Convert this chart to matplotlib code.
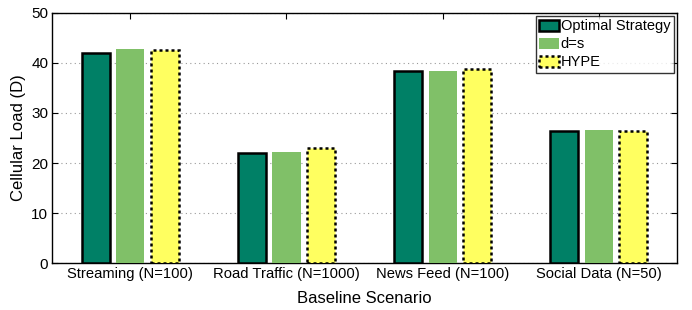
import matplotlib
matplotlib.use("Agg")
import matplotlib.pyplot as plt
import numpy as np

plt.rcParams['font.family'] = ['Liberation Sans', 'DejaVu Sans']

categories = ["Streaming (N=100)", "Road Traffic (N=1000)", "News Feed (N=100)", "Social Data (N=50)"]
optimal = [42.0, 22.1, 38.4, 26.4]
ds = [42.8, 22.3, 38.4, 26.5]
hype = [42.5, 23.0, 38.7, 26.4]
series_names = ["Optimal Strategy", "d=s", "HYPE"]
yticks = [0, 10, 20, 30, 40, 50]

fig = plt.figure(figsize=(6.92, 3.10), dpi=100)
ax = fig.add_axes([0.0756, 0.1506, 0.9023, 0.8084])

x = np.arange(1, len(categories) + 1)
w = 0.18
off = 0.222
ax.bar(x - off, optimal, w, color='#008066', edgecolor='black', linewidth=1.8, label=series_names[0], zorder=3)
ax.bar(x, ds, w, color='#80C068', edgecolor='none', linewidth=0, label=series_names[1], zorder=3)
ax.bar(x + off, hype, w, color='#FFFF60', edgecolor='black', linewidth=1.8, linestyle=(0, (1.2, 1.2)), label=series_names[2], zorder=3)

ax.set_xlim(0.5, 4.5)
ax.set_ylim(0, 50)
ax.set_xticks(x)
ax.set_xticklabels(categories, fontsize=10.6)
ax.set_yticks(yticks)
ax.set_yticklabels([str(t) for t in yticks], fontsize=11)
ax.tick_params(direction='in', top=True, right=True, length=4, width=0.8, pad=3)
ax.yaxis.grid(True, linestyle=(0, (1, 3)), color='#999999', linewidth=0.8, zorder=0)
ax.set_axisbelow(True)
for s in ax.spines.values():
    s.set_linewidth(1.0)

ax.set_xlabel("Baseline Scenario", fontsize=12, labelpad=7)
ax.set_ylabel("Cellular Load (D)", fontsize=12, labelpad=4)

leg = ax.legend(loc='upper right', fontsize=10.5, frameon=True, fancybox=False,
                edgecolor='black', borderpad=0.25, labelspacing=0.28, handlelength=1.35,
                handleheight=0.8, handletextpad=0.1, borderaxespad=0.2)
leg.get_frame().set_linewidth(1.0)

fig.savefig("out.png", dpi=100)
